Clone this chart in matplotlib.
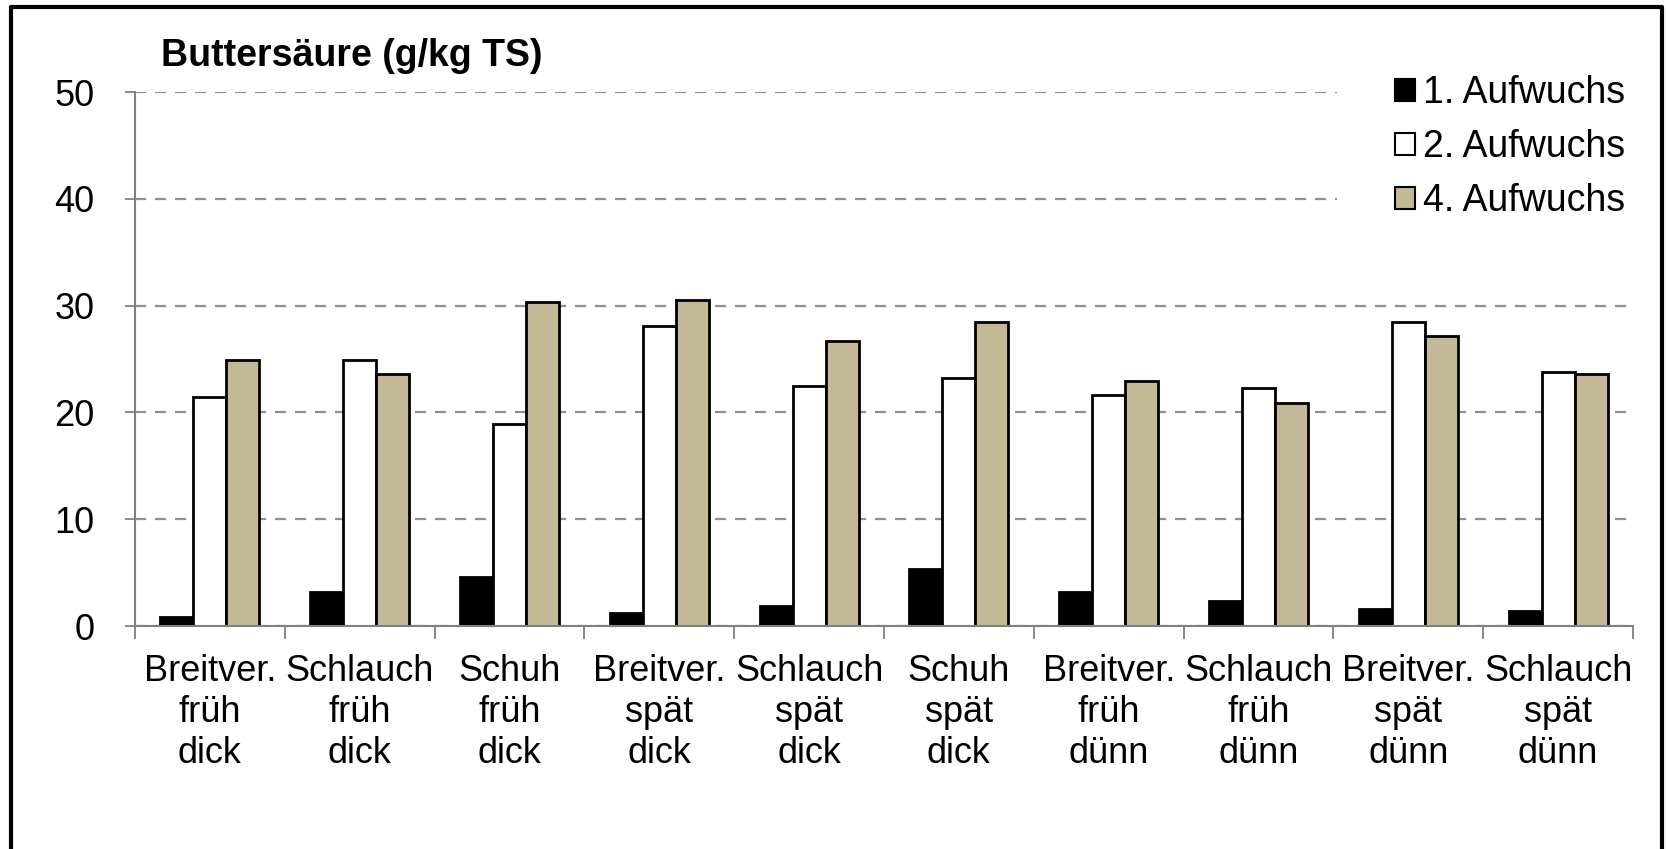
import matplotlib
matplotlib.use("Agg")
import matplotlib.pyplot as plt
import numpy as np

plt.rcParams['font.family'] = ['Liberation Sans', 'DejaVu Sans']

# Data
categories = ["Breitver.\nfrüh\ndick", "Schlauch\nfrüh\ndick", "Schuh\nfrüh\ndick",
              "Breitver.\nspät\ndick", "Schlauch\nspät\ndick", "Schuh\nspät\ndick",
              "Breitver.\nfrüh\ndünn", "Schlauch\nfrüh\ndünn", "Breitver.\nspät\ndünn",
              "Schlauch\nspät\ndünn"]
aufwuchs1 = [0.8, 3.2, 4.6, 1.2, 1.9, 5.3, 3.2, 2.3, 1.6, 1.4]
aufwuchs2 = [21.4, 24.9, 18.9, 28.1, 22.5, 23.2, 21.6, 22.3, 28.5, 23.8]
aufwuchs4 = [24.9, 23.6, 30.3, 30.5, 26.7, 28.5, 22.9, 20.9, 27.2, 23.6]
series_names = ["1. Aufwuchs", "2. Aufwuchs", "4. Aufwuchs"]
series_colors = ["black", "white", "#c4b996"]
yticks = [0, 10, 20, 30, 40, 50]

W, H = 1666, 849
fig = plt.figure(figsize=(W / 100, H / 100), dpi=100)
ax = fig.add_axes([135 / W, 1 - 626 / H, (1633 - 135) / W, (626 - 92) / H])

x = np.arange(len(categories))
bw = 0.22
for i, (vals, name, col) in enumerate(zip([aufwuchs1, aufwuchs2, aufwuchs4], series_names, series_colors)):
    ax.bar(x + (i - 1) * bw, vals, width=bw, color=col, edgecolor='black',
           linewidth=2, label=name, zorder=3)

ax.set_xlim(-0.5, len(categories) - 0.5)
ax.set_ylim(0, 50)
ax.set_yticks(yticks)
ax.set_yticklabels([str(v) for v in yticks], fontsize=26)
ax.grid(axis='y', linestyle=(0, (5, 4)), color='#909090', linewidth=1.6, zorder=0)

ax.set_xticks(x)
ax.set_xticklabels(categories, fontsize=26, linespacing=1.22)
ax.set_xticks(np.arange(len(categories) + 1) - 0.5, minor=True)
ax.tick_params(axis='x', which='major', length=0, pad=20)
ax.tick_params(axis='x', which='minor', length=9, width=1.3, color='#808080', direction='out')
ax.tick_params(axis='y', length=7, width=1.3, color='#808080', pad=22)

for s in ['top', 'right']:
    ax.spines[s].set_visible(False)
for s in ['left', 'bottom']:
    ax.spines[s].set_color('#808080')
    ax.spines[s].set_linewidth(1.5)
    ax.spines[s].set_zorder(4)

fig.text(161 / W, 1 - 56 / H, "Buttersäure (g/kg TS)", fontsize=27, fontweight='bold',
         ha='left', va='center')

# white legend area (Excel-style box hides the gridlines behind it)
fig.add_artist(plt.Rectangle((1337 / W, 1 - 218 / H), (1658 - 1337) / W, (218 - 62) / H,
                             transform=fig.transFigure, facecolor='white',
                             edgecolor='none', zorder=1))

leg = fig.legend(loc='upper right', bbox_to_anchor=(1681 / W, 1 - 19 / H), fontsize=27,
                 handlelength=0.55, handleheight=0.55, handletextpad=0.2,
                 labelspacing=0.48, borderpad=1.0, frameon=True, fancybox=False)
leg.get_frame().set_edgecolor('none')
leg.get_frame().set_facecolor('white')
for p in leg.get_patches():
    p.set_linewidth(1.5)

# outer chart border
fig.add_artist(plt.Line2D([11 / W, 11 / W, 1662 / W, 1662 / W],
                          [0, 1 - 7 / H, 1 - 7 / H, 0],
                          transform=fig.transFigure, color='black', linewidth=3,
                          zorder=10))

fig.savefig("out.png", dpi=100)
